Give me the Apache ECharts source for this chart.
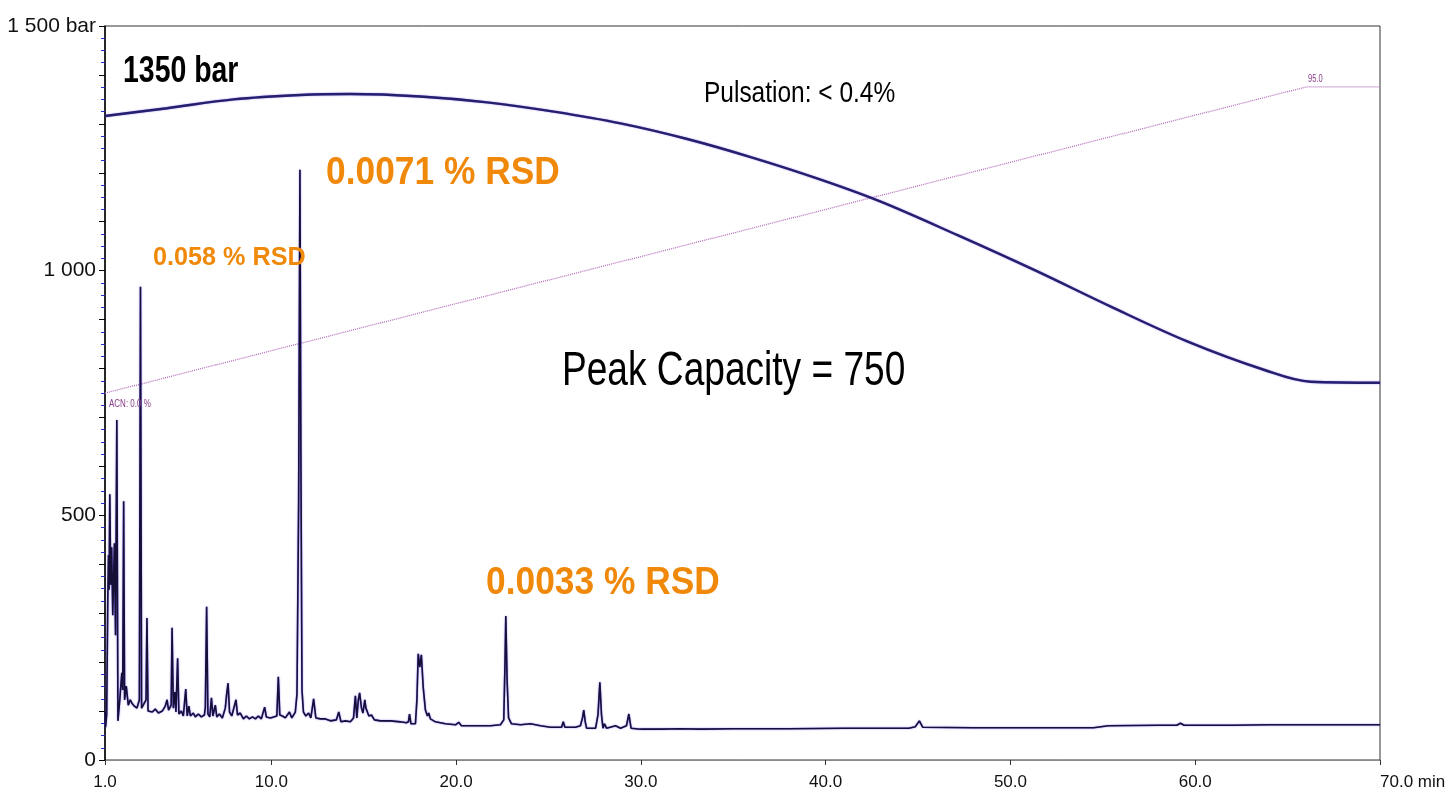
<!DOCTYPE html>
<html>
<head>
<meta charset="utf-8">
<script src="https://cdn.jsdelivr.net/npm/echarts@6/dist/echarts.min.js"></script>
<style>
html,body{margin:0;padding:0;background:#fff;}
#c{width:1448px;height:798px;}
</style>
</head>
<body>
<div id="c"></div>
<script>
// ---- data ----
const xTickValues = [1, 10, 20, 30, 40, 50, 60, 70];
const xTickLabels = ['1.0', '10.0', '20.0', '30.0', '40.0', '50.0', '60.0', '70.0 min'];
const yLabelValues = [0, 500, 1000, 1500];
const yLabelTexts = ['0', '500', '1 000', '1 500 bar'];

const pressureTime = [1.0, 4.36, 7.95, 11.57, 14.28, 18.07, 21.68, 25.29, 28.90, 32.51, 36.12, 39.73, 42.98, 47.17, 51.31, 55.46, 59.60, 63.75, 66.24, 70.0];
const pressureBar = [1316, 1332, 1350, 1359, 1361, 1356, 1344, 1325, 1301, 1269, 1230, 1186, 1141, 1072, 1001, 926, 855, 797, 773, 771];

const gradientTime = [1, 66, 70];
const gradientAcn = [0, 95, 95];

const chromTime = [1.00,1.03,1.09,1.15,1.19,1.22,1.26,1.31,1.36,1.42,
1.51,1.57,1.64,1.70,1.80,1.91,1.96,2.01,2.06,2.15,
2.26,2.37,2.46,2.59,2.73,2.86,2.92,2.98,3.07,3.22,
3.27,3.33,3.56,3.72,3.89,4.10,4.26,4.36,4.44,4.58,
4.63,4.70,4.78,4.84,4.93,5.00,5.13,5.24,5.37,5.45,
5.54,5.62,5.78,5.89,6.05,6.21,6.38,6.43,6.50,6.57,
6.67,6.76,6.84,6.97,7.05,7.19,7.35,7.51,7.58,7.66,
7.74,7.86,8.09,8.17,8.32,8.49,8.65,8.81,8.98,9.14,
9.30,9.46,9.64,9.73,9.95,10.30,10.38,10.46,10.60,10.76,
10.98,11.11,11.30,11.39,11.48,11.55,11.60,11.66,11.74,11.87,
12.02,12.14,12.29,12.41,12.66,12.93,13.20,13.52,13.65,13.77,
14.01,14.28,14.45,14.55,14.63,14.71,14.78,14.88,14.96,15.06,
15.12,15.18,15.28,15.42,15.58,15.91,16.45,16.99,17.31,17.42,
17.48,17.56,17.80,17.88,17.95,18.04,18.12,18.22,18.34,18.45,
18.52,18.61,18.88,19.42,19.97,20.14,20.29,21.05,21.86,22.40,
22.58,22.65,22.69,22.76,22.84,23.00,23.49,24.03,24.57,25.11,
25.71,25.80,25.89,26.46,26.73,26.84,26.91,26.99,27.06,27.55,
27.68,27.78,27.87,27.95,28.03,28.14,28.63,28.90,29.22,29.35,
29.47,29.98,31.07,32.15,33.23,35.0,38.0,41.0,44.5,44.85,
45.07,45.25,48.0,52.0,54.5,55.3,58.0,59.0,59.2,59.4,
62.0,64.0,66.0,70.0];
const chromSignal = [98,67,92,327,419,348,543,358,435,296,
443,255,695,80,123,178,143,529,123,151,
112,123,116,110,106,123,967,106,112,123,
290,100,98,104,96,100,110,123,102,112,
270,106,139,98,208,94,100,90,145,90,
110,90,96,88,94,88,92,108,313,94,
88,127,90,112,88,94,86,106,133,157,
98,90,123,92,96,84,90,84,88,84,
90,84,108,88,86,90,170,92,90,86,
98,86,98,135,531,1206,634,143,98,90,
96,86,125,86,84,84,80,82,98,78,
80,78,86,131,86,123,137,106,96,123,
106,110,90,92,82,80,80,78,76,78,
94,74,74,123,217,190,215,149,102,90,
96,84,78,74,72,77,70,70,70,72,
82,204,294,164,86,74,72,74,70,67,
67,78,67,67,70,86,102,78,65,65,
92,159,92,65,74,65,70,65,70,94,
65,63,63,64,63,64,64,65,65,68,
80,67,66,66,66,70,71,71,75,71,
71,72,72,72];

const annotationTexts = {
  pressureSet: '1350 bar',
  pulsation: 'Pulsation: < 0.4%',
  rsdBig: '0.0071 % RSD',
  rsdSmall: '0.058 % RSD',
  peakCapacity: 'Peak Capacity = 750',
  rsdLate: '0.0033 % RSD',
  acnStart: 'ACN: 0.0 %',
  acnEnd: '95.0'
};

// ---- build ----
const zip = (a, b) => a.map((v, i) => [v, b[i]]);
const SANS = "'Liberation Sans', Arial, sans-serif";
const ORANGE = '#F0880A';

const chart = echarts.init(document.getElementById('c'), null, {renderer: 'canvas'});

function txt(text, x, y, size, sx, opts) {
  opts = opts || {};
  return {
    type: 'text', x: x, y: y, scaleX: sx, scaleY: 1, z: 100,
    style: {
      text: text, x: 0, y: 0,
      align: 'left', verticalAlign: 'middle',
      fontSize: size,
      fontFamily: SANS,
      fontWeight: opts.bold ? 'bold' : 'normal',
      fill: opts.color || '#000'
    }
  };
}

const option = {
  animation: false,
  backgroundColor: '#fff',
  grid: {left: 105, right: 68, top: 26, bottom: 38, outerBoundsMode: 'none', containLabel: false,
         show: true, borderColor: '#333', borderWidth: 1},
  xAxis: {
    type: 'value', min: 1, max: 70,
    axisLine: {show: true, onZero: false, lineStyle: {color: '#8a8a8a', width: 1}},
    axisTick: {show: true, customValues: xTickValues, length: 5, lineStyle: {color: '#333'}},
    axisLabel: {
      customValues: xTickValues, margin: 14, fontSize: 17, fontFamily: SANS, color: '#111',
      alignMaxLabel: 'left',
      formatter: v => { const i = xTickValues.indexOf(v); return i >= 0 ? xTickLabels[i] : ''; }
    },
    splitLine: {show: false}
  },
  yAxis: [{
    type: 'value', min: 0, max: 1500, interval: 100,
    axisLine: {show: true, lineStyle: {color: '#000', width: 1.5}},
    axisTick: {show: true, length: 6, lineStyle: {color: '#000'}},
    minorTick: {show: true, splitNumber: 4, length: 4, lineStyle: {color: '#2b2bd6'}},
    axisLabel: {
      customValues: yLabelValues, margin: 9, fontSize: 21, fontFamily: SANS, color: '#111',
      formatter: v => { const i = yLabelValues.indexOf(v); return i >= 0 ? yLabelTexts[i] : ''; }
    },
    splitLine: {show: false}
  }, {
    type: 'value', min: -113.8, max: 113.9, show: false,
    splitLine: {show: false}
  }],
  series: [{
    name: 'ACN', type: 'line', yAxisIndex: 1, symbol: 'none', z: 1,
    data: zip(gradientTime, gradientAcn),
    lineStyle: {color: '#b56fba', width: 1.3, type: [1, 1]}
  }, {
    name: 'Pressure', type: 'line', symbol: 'none', smooth: 0.35, z: 2,
    data: zip(pressureTime, pressureBar),
    lineStyle: {color: '#25206e', width: 2.4, shadowColor: 'rgba(110,60,230,0.7)', shadowBlur: 1.5}
  }, {
    name: 'UV', type: 'line', symbol: 'none', z: 3,
    data: zip(chromTime, chromSignal),
    lineStyle: {color: '#160f38', width: 1.6, shadowColor: 'rgba(90,50,255,0.8)', shadowBlur: 1.5}
  }],
  graphic: [
    txt(annotationTexts.pressureSet, 123, 72, 36, 0.79, {bold: true}),
    txt(annotationTexts.pulsation, 704, 94, 30, 0.816),
    txt(annotationTexts.rsdBig, 326, 174, 38, 0.93, {bold: true, color: ORANGE}),
    txt(annotationTexts.rsdSmall, 153, 258, 26, 0.97, {bold: true, color: ORANGE}),
    txt(annotationTexts.peakCapacity, 562, 371, 49, 0.757),
    txt(annotationTexts.rsdLate, 486, 584, 38, 0.93, {bold: true, color: ORANGE}),
    txt(annotationTexts.acnStart, 109, 404, 10, 0.8, {color: '#8a3c8a'}),
    txt(annotationTexts.acnEnd, 1308, 79, 10, 0.75, {color: '#8a3c8a'})
  ]
};
chart.setOption(option);
</script>
</body>
</html>
